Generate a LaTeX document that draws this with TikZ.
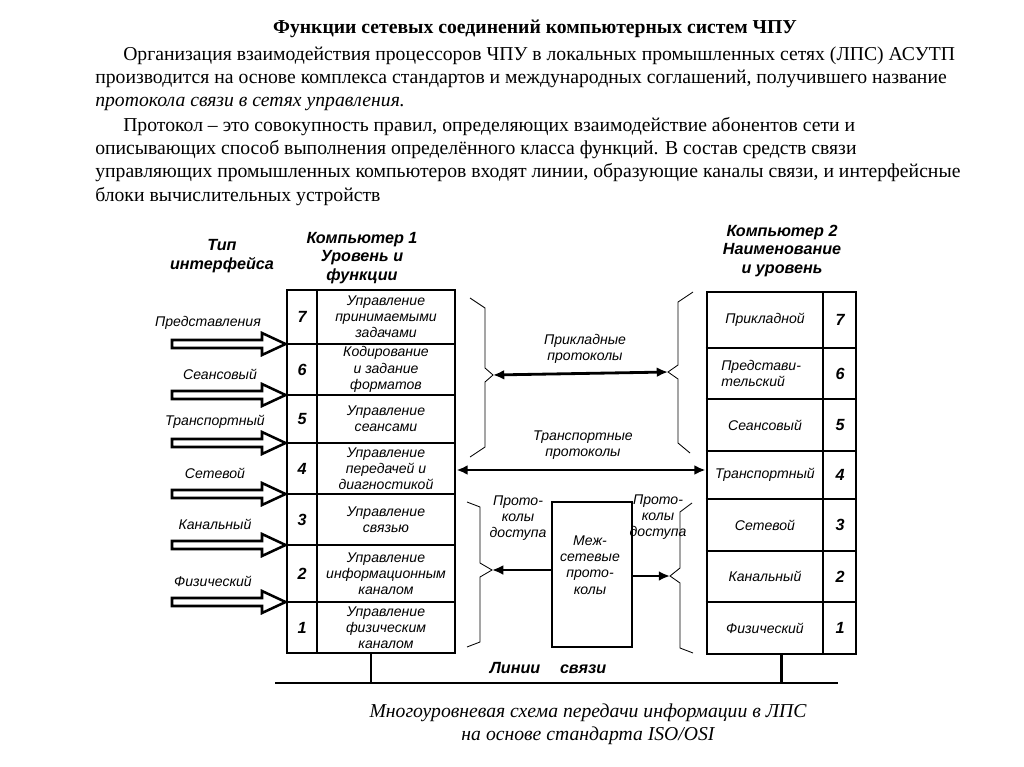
\documentclass[tikz,border=0pt]{standalone}
\usepackage{fontspec}
\setmainfont{Liberation Serif}
\setsansfont{Liberation Sans}
\usetikzlibrary{arrows.meta,positioning,calc}
\tikzset{
    body/.style={font=\fontsize{14}{16.5}\selectfont, anchor=base west, inner sep=0pt},
    lab/.style={font=\sffamily\itshape\fontsize{10}{11.5}\selectfont, align=center, inner sep=0pt},
    hdr/.style={font=\sffamily\bfseries\itshape\fontsize{11.5}{13}\selectfont, align=center, inner sep=0pt},
    num/.style={font=\sffamily\bfseries\itshape\fontsize{11.5}{13}\selectfont, inner sep=0pt},
    frame/.style={draw, line width=2pt, inner sep=0pt},
    cell/.style={line width=1.1pt},
    bus/.style={line width=2pt},
    bracel/.style={line width=0.6pt},
    % полые стрелки интерфейсов
    blockarrow/.style={draw, line width=1.8pt, fill=white, line join=miter},
    protarrow/.style={line width=2pt, -{Latex[length=8pt,width=7pt]}},
    protboth/.style={line width=2pt, {Latex[length=8pt,width=7pt]}-{Latex[length=8pt,width=7pt]}}
}
\begin{document}
\begin{tikzpicture}[x=0.025cm, y=-0.025cm]
\useasboundingbox (0,0) rectangle (1024,767);

% текст сверху
\node[body, font=\bfseries\fontsize{14}{16.5}\selectfont, anchor=base] (title) at (535,34) {Функции сетевых соединений компьютерных систем ЧПУ};
\node[body] (p1) at (123,61) {Организация взаимодействия процессоров ЧПУ в локальных промышленных сетях (ЛПС) АСУТП};
\node[body] (p2) at (95,84) {производится на основе комплекса стандартов и международных соглашений, получившего название};
\node[body] (p3) at (95,107) {\itshape протокола связи в сетях управления.};
\node[body] (p4) at (123,132) {Протокол – это совокупность правил, определяющих взаимодействие абонентов сети и};
\node[body] (p5) at (95,155) {описывающих способ выполнения определённого класса функций. В состав средств связи};
\node[body] (p6) at (95,178) {управляющих промышленных компьютеров входят линии, образующие каналы связи, и интерфейсные};
\node[body] (p7) at (95,202) {блоки вычислительных устройств};

% заголовки
\node[hdr] (tip) at (222,256) {Тип\\интерфейса};
\node[hdr] (hc1) at (362,258) {Компьютер 1\\Уровень и\\функции};
\node[hdr] (hc2) at (782,251) {Компьютер 2\\Наименование\\и уровень};

% компьютер 1
\node[frame, minimum width=4.2cm, minimum height=9.075cm] (comp1) at (371,471.5) {};
\coordinate (d1) at (317,290);
\draw[cell] (d1) -- (d1 |- comp1.south);
\foreach \y in {344,395,443,494,545,602}
    \draw[cell] (comp1.west |- 0,\y) -- (comp1.east |- 0,\y);
\foreach \y/\n/\t in {317/7/{Управление\\принимаемыми\\задачами},
                      369.5/6/{Кодирование\\и задание\\форматов},
                      419/5/{Управление\\сеансами},
                      468.5/4/{Управление\\передачей и\\диагностикой},
                      519.5/3/{Управление\\связью},
                      573.5/2/{Управление\\информационным\\каналом},
                      627.5/1/{Управление\\физическим\\каналом}}{
    \node[num] (n1\n) at (302,\y) {\n};
    \node[lab] (f1\n) at (386,\y) {\t};
}

% интерфейсы
\foreach \y/\xl/\t in {344/208/Представления, 395/220/Сеансовый, 443/215/Транспортный,
                       494/215/Сетевой, 545/215/Канальный, 602/213/Физический}{
    \node[lab] (if\y) at (\xl,\y-21) {\t};
    \draw[blockarrow] (172,\y-4) -- (262,\y-4) -- (262,\y-11) -- (comp1.west |- 0,\y)
        -- (262,\y+11) -- (262,\y+4) -- (172,\y+4) -- cycle;
}

% компьютер 2
\node[frame, minimum width=3.725cm, minimum height=9.05cm] (comp2) at (781.5,473) {};
\coordinate (d2) at (823,292);
\draw[cell] (d2) -- (d2 |- comp2.south);
\foreach \y in {348,399,451,499,551,602}
    \draw[cell] (comp2.west |- 0,\y) -- (comp2.east |- 0,\y);
\foreach \y/\n/\t in {320/7/Прикладной, 425/5/Сеансовый, 475/4/Транспортный,
                      525/3/Сетевой, 576.5/2/Канальный, 628/1/Физический}{
    \node[num] (n2\n) at (840,\y) {\n};
    \node[lab] (f2\n) at (765,\y) {\t};
}
\node[num] (n26) at (840,373.5) {6};
\node[lab, align=left, anchor=west] (f26) at (721,373.5) {Представи-\\тельский};

% скобки
\draw[bracel] (470,298) -- (485,308) -- (485,368) -- (493,375) coordinate (b1) -- (485,382) -- (485,447) -- (470,457);
\draw[bracel] (693,292) -- (678,302) -- (678,365) -- (668,372) coordinate (b2) -- (678,379) -- (678,443) -- (690,453);
\draw[bracel] (467,502) -- (480,507) -- (480,563) -- (492,570) coordinate (b3) -- (480,577) -- (480,642) -- (467,647);
\draw[bracel] (692,503) -- (680,512) -- (680,568) -- (670,576) coordinate (b4) -- (680,583) -- (680,648) -- (693,653);

% протоколы
\node[lab] (app) at (585,349) {Прикладные\\протоколы};
\draw[protboth] (b1) -- (b2);
\node[lab] (trn) at (583,445) {Транспортные\\протоколы};
\coordinate (tr1) at (comp1.east |- 0,470);
\coordinate (tr2) at (comp2.west |- 0,470);
\draw[protboth] (tr1) -- (tr2);

\node[frame, minimum width=2cm, minimum height=3.625cm] (inter) at (592,574.5) {};
\node[lab] (intt) at (590,565) {Меж-\\сетевые\\прото-\\колы};
\node[lab] (acc1) at (518,518) {Прото-\\колы\\доступа};
\node[lab] (acc2) at (658,517) {Прото-\\колы\\доступа};
\draw[protarrow] (inter.west |- b3) -- (b3);
\draw[protarrow] (inter.east |- b4) -- (b4);

% линии связи
\coordinate (busl) at (275,683);
\coordinate (busr) at (838,683);
\draw[bus] (busl) -- (busr);
\draw[bus] (comp1.south) -- (comp1.south |- busl);
\draw[bus] (comp2.south) -- (comp2.south |- busl);
\node[hdr] (lines) at (548,668) {Линии\hspace{14pt}связи};

% подпись
\node[font=\itshape\fontsize{14}{16.5}\selectfont, align=center, inner sep=0pt] (cap) at (588,724)
    {Многоуровневая схема передачи информации в ЛПС\\на основе стандарта ISO/OSI};
\end{tikzpicture}
\end{document}
